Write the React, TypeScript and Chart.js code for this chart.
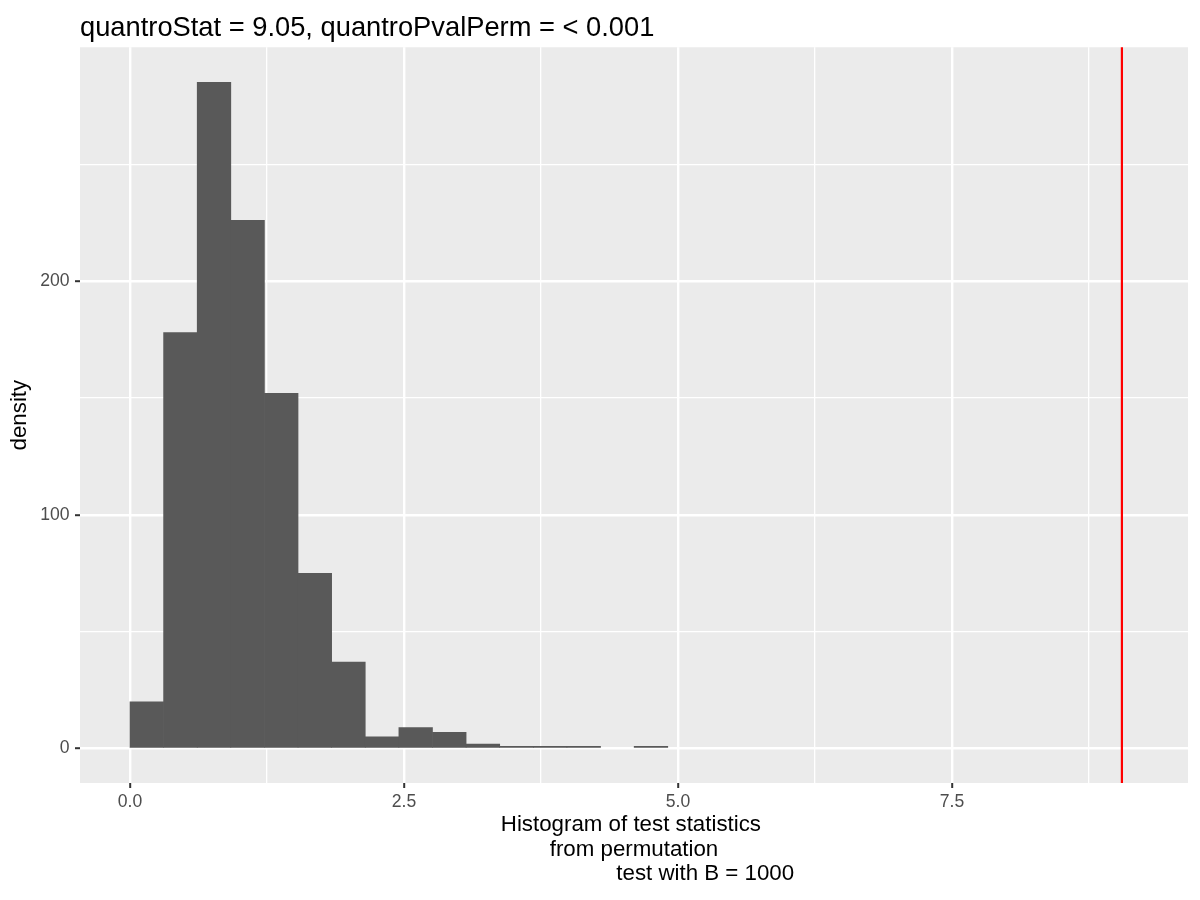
import { useEffect, useRef } from "react";
import { Chart, ChartOptions, Plugin, registerables } from "chart.js";

Chart.register(...registerables);

// histogram of permutation statistics, bin centres and heights
const binCenters = [
  0.1533, 0.46, 0.7667, 1.0733, 1.38, 1.6867, 1.9933, 2.3, 2.6067, 2.9133,
  3.22, 3.5267, 3.8333, 4.14, 4.4467, 4.7533,
];
const density = [20, 178, 285, 226, 152, 75, 37, 5, 9, 7, 2, 1, 1, 1, 0, 1];
const quantroStat = 9.05;

const xMajor = [0, 2.5, 5, 7.5];
const xMinor = [1.25, 3.75, 6.25, 8.75];
const yMajor = [0, 100, 200];
const yMinor = [50, 150, 250];
const xRange = [-0.456, 9.653];
const yRange = [-14.7, 300];

const titleText = "quantroStat = 9.05, quantroPvalPerm = < 0.001";
const xTitle = [
  "Histogram of test statistics ",
  "from permutation",
  " ".repeat(23) + "test with B = 1000",
];
const yTitle = "density";

const FONT = "'Liberation Sans', Arial, Helvetica, sans-serif";

const panelBackground: Plugin = {
  id: "panelBackground",
  beforeDraw(chart) {
    const { ctx, chartArea: a } = chart;
    ctx.save();
    ctx.fillStyle = "#EBEBEB";
    ctx.fillRect(a.left, a.top, a.right - a.left, a.bottom - a.top);
    ctx.restore();
  },
};

const statLine: Plugin = {
  id: "statLine",
  afterDatasetsDraw(chart) {
    const { ctx, chartArea: a } = chart;
    const x = chart.scales.x.getPixelForValue(quantroStat);
    ctx.save();
    ctx.strokeStyle = "#FF0000";
    ctx.lineWidth = 2.2;
    ctx.beginPath();
    ctx.moveTo(x, a.top);
    ctx.lineTo(x, a.bottom);
    ctx.stroke();
    ctx.restore();
  },
};

export default function App() {
  const chartRef = useRef<HTMLCanvasElement>(null);
  const chartInstance = useRef<Chart | null>(null);

  useEffect(() => {
    if (!chartRef.current) return;
    if (chartInstance.current) chartInstance.current.destroy();
    const ctx = chartRef.current.getContext("2d");
    if (!ctx) return;

    const isMajor = (list: number[], v: number) => list.some((m) => Math.abs(m - v) < 1e-9);

    const options: ChartOptions<"bar"> = {
      responsive: false,
      animation: false,
      layout: { padding: { left: 0, right: 12, top: 0, bottom: 0 } },
      plugins: {
        legend: { display: false },
        tooltip: { enabled: false },
        title: {
          display: true,
          text: titleText,
          align: "start",
          fullSize: false,
          color: "#000000",
          font: { family: FONT, size: 27.3, weight: "normal" },
          padding: { top: 12.2, bottom: 2.3 },
        },
      },
      scales: {
        x: {
          type: "linear",
          min: xRange[0],
          max: xRange[1],
          offset: false,
          afterBuildTicks: (scale) => {
            scale.ticks = [...xMajor, ...xMinor].sort((a, b) => a - b).map((v) => ({ value: v }));
          },
          afterFit: (scale) => {
            scale.height = 117;
          },
          border: { display: false },
          grid: {
            offset: false,
            color: "#FFFFFF",
            lineWidth: (c) => (isMajor(xMajor, c.tick?.value) ? 2.4 : 1.3),
            tickColor: (c) => (isMajor(xMajor, c.tick?.value) ? "#333333" : "rgba(0,0,0,0)"),
            tickWidth: 2,
            tickLength: 5,
          },
          ticks: {
            autoSkip: false,
            maxRotation: 0,
            padding: 4,
            color: "#4D4D4D",
            font: { family: FONT, size: 17.6 },
            callback: (v) => (isMajor(xMajor, Number(v)) ? Number(v).toFixed(1) : ""),
          },
          title: {
            display: true,
            text: xTitle,
            color: "#000000",
            font: { family: FONT, size: 22.3, lineHeight: 1.1 },
            padding: { top: 0, bottom: 13.6 },
          },
        },
        y: {
          type: "linear",
          min: yRange[0],
          max: yRange[1],
          afterBuildTicks: (scale) => {
            scale.ticks = [...yMajor, ...yMinor].sort((a, b) => a - b).map((v) => ({ value: v }));
          },
          afterFit: (scale) => {
            scale.width = 80;
          },
          border: { display: false },
          grid: {
            color: "#FFFFFF",
            lineWidth: (c) => (isMajor(yMajor, c.tick?.value) ? 2.4 : 1.3),
            tickColor: (c) => (isMajor(yMajor, c.tick?.value) ? "#333333" : "rgba(0,0,0,0)"),
            tickWidth: 2,
            tickLength: 5,
          },
          ticks: {
            autoSkip: false,
            padding: 5.5,
            color: "#4D4D4D",
            font: { family: FONT, size: 17.6 },
            callback: (v) => (isMajor(yMajor, Number(v)) ? String(v) : ""),
          },
          title: {
            display: true,
            text: yTitle,
            color: "#000000",
            font: { family: FONT, size: 22.3, lineHeight: 1.1 },
            padding: { top: 8, bottom: 0 },
          },
        },
      },
    };

    chartInstance.current = new Chart(ctx, {
      type: "bar",
      data: {
        datasets: [
          {
            label: "density",
            data: binCenters.map((x, i) => ({ x, y: density[i] })),
            // empty bins draw nothing
            backgroundColor: (c) => ((c.raw as { y: number })?.y === 0 ? "rgba(0,0,0,0)" : "#595959"),
            borderWidth: 0,
            barPercentage: 1,
            categoryPercentage: 1,
          },
        ],
      },
      options,
      plugins: [panelBackground, statLine],
    });

    return () => {
      if (chartInstance.current) {
        chartInstance.current.destroy();
        chartInstance.current = null;
      }
    };
  }, []);

  return (
    <div style={{ position: "absolute", left: 0, top: 0, width: 1200, height: 900, background: "#FFFFFF" }}>
      <canvas ref={chartRef} width={1200} height={900} />
    </div>
  );
}
